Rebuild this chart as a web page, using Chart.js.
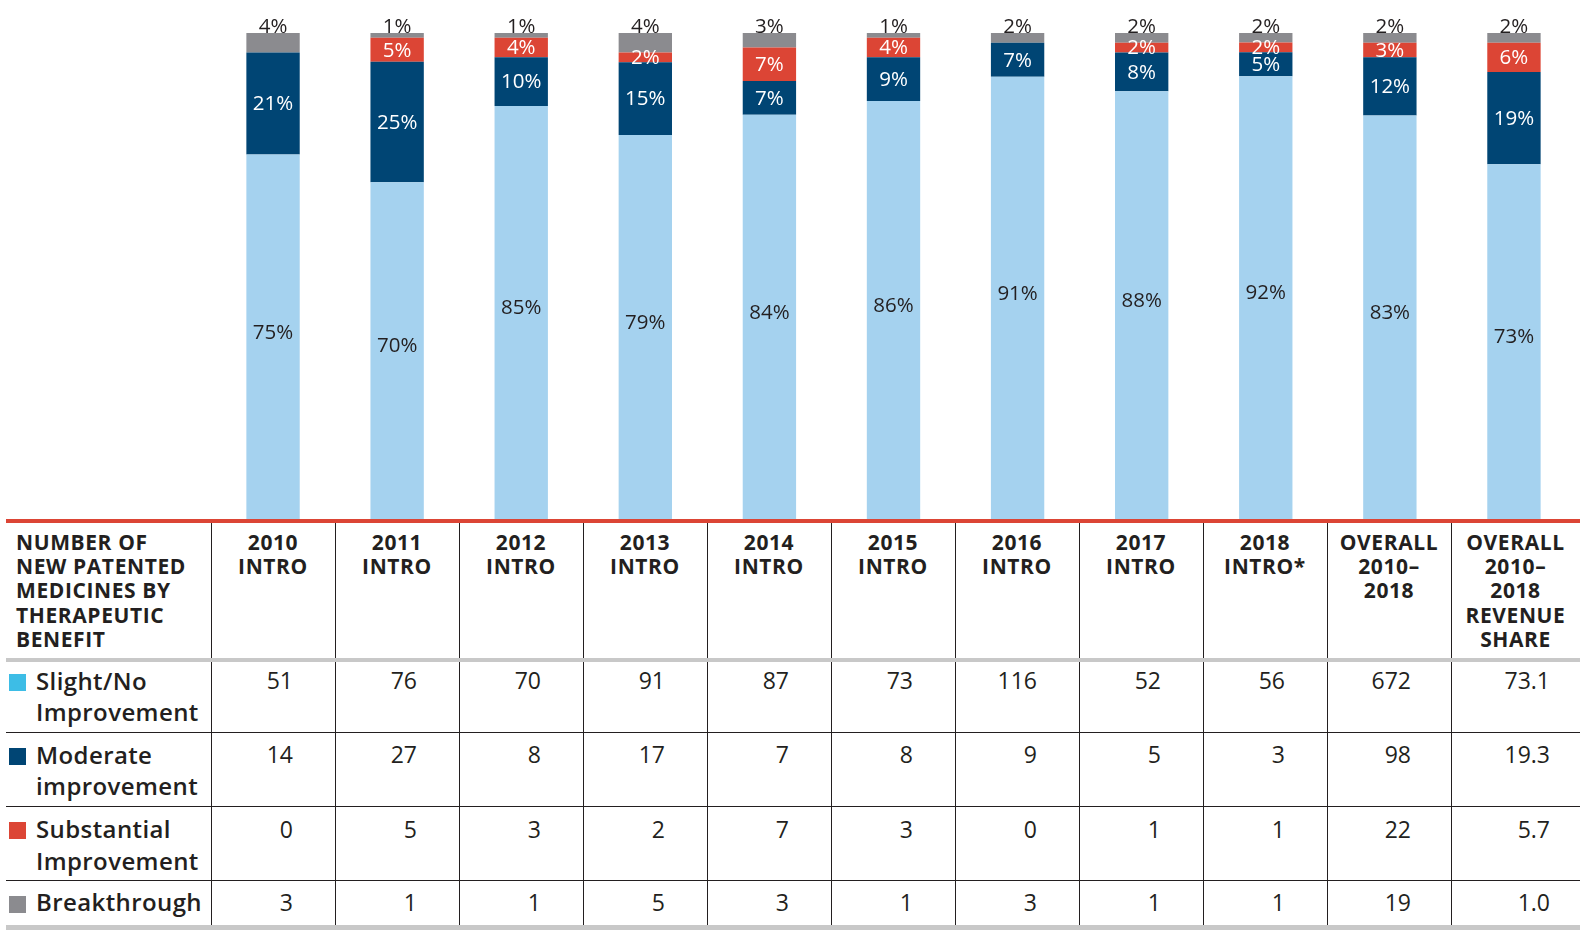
<!DOCTYPE html>
<html>
<head>
<meta charset="utf-8">
<script src="https://cdn.jsdelivr.net/npm/chart.js@4"></script>
<style>
  html, body { margin: 0; padding: 0; background: #fff; }
  #wrap { position: relative; width: 1580px; height: 936px; overflow: hidden; font-family: "Open Sans", sans-serif; color: #231f20; }
  #chart { position: absolute; left: 0; top: 0; }
  .hl { position: absolute; left: 6px; right: 0; }
  .vl { position: absolute; width: 1px; background: #231f20; top: 523px; height: 402px; }
  .hdr { position: absolute; font-weight: 700; font-size: 21px; line-height: 24.2px; letter-spacing: 0.6px; white-space: nowrap; }
  .lab { position: absolute; font-weight: 600; font-size: 24px; line-height: 31.7px; letter-spacing: 0.4px; white-space: nowrap; left: 36px; }
  .val { position: absolute; font-weight: 400; font-size: 23px; line-height: 31.7px; white-space: nowrap; text-align: right; }
  .sq { position: absolute; left: 9px; width: 17px; height: 17px; }
</style>
</head>
<body>
<div id="wrap">
  <canvas id="chart" width="1580" height="519"></canvas>
</div>
<script>
// ---------- DATA ----------
const categories = ["2010 INTRO","2011 INTRO","2012 INTRO","2013 INTRO","2014 INTRO","2015 INTRO","2016 INTRO","2017 INTRO","2018 INTRO*","OVERALL 2010–2018","OVERALL 2010–2018 REVENUE SHARE"];
const headerLines = [["2010","INTRO"],["2011","INTRO"],["2012","INTRO"],["2013","INTRO"],["2014","INTRO"],["2015","INTRO"],["2016","INTRO"],["2017","INTRO"],["2018","INTRO*"],["OVERALL","2010–","2018"],["OVERALL","2010–","2018","REVENUE","SHARE"]];
const cornerLines = ["NUMBER OF","NEW PATENTED","MEDICINES BY","THERAPEUTIC","BENEFIT"];

const seriesNames = [["Slight/No","Improvement"],["Moderate","improvement"],["Substantial","Improvement"],["Breakthrough"]];

const slightPct       = [75,70,85,79,84,86,91,88,92,83,73];
const moderatePct     = [21,25,10,15, 7, 9, 7, 8, 5,12,19];
const substantialPct  = [ 0, 5, 4, 2, 7, 4, 0, 2, 2, 3, 6];
const breakthroughPct = [ 4, 1, 1, 4, 3, 1, 2, 2, 2, 2, 2];

const slightCount       = ["51","76","70","91","87","73","116","52","56","672","73.1"];
const moderateCount     = ["14","27","8","17","7","8","9","5","3","98","19.3"];
const substantialCount  = ["0","5","3","2","7","3","0","1","1","22","5.7"];
const breakthroughCount = ["3","1","1","5","3","1","3","1","1","19","1.0"];

// ---------- STYLE ----------
const barColors = ["#a5d2ef","#004574","#dc4535","#8b8b8f"];
const legendColors = ["#3dbde6","#004574","#dc4535","#8b8b8f"];
const pctSeries = [slightPct, moderatePct, substantialPct, breakthroughPct];
const countSeries = [slightCount, moderateCount, substantialCount, breakthroughCount];

// column totals of the printed shares (some round to 101)
const totals = categories.map((_, i) => pctSeries.reduce((s, a) => s + a[i], 0));

const labelPlugin = {
  id: 'segLabels',
  afterDatasetsDraw(chart) {
    const ctx = chart.ctx;
    ctx.save();
    ctx.font = '400 20.5px "Open Sans"';
    ctx.textAlign = 'center';
    chart.data.datasets.forEach((ds, di) => {
      const meta = chart.getDatasetMeta(di);
      meta.data.forEach((el, i) => {
        const v = pctSeries[di][i];
        if (!v) return;
        const p = el.getProps(['x','y','base'], true);
        const txt = v + '%';
        if (di === 3) {
          ctx.fillStyle = '#231f20';
          ctx.textBaseline = 'alphabetic';
          ctx.fillText(txt, p.x, p.y - 0.5);
        } else if (di === 0) {
          ctx.fillStyle = '#231f20';
          ctx.textBaseline = 'middle';
          ctx.fillText(txt, p.x, (p.y + p.base) / 2 - 4);
        } else {
          ctx.fillStyle = '#ffffff';
          ctx.textBaseline = 'middle';
          ctx.fillText(txt, p.x, (p.y + p.base) / 2 + 1);
        }
      });
    });
    ctx.restore();
  }
};

new Chart(document.getElementById('chart'), {
  type: 'bar',
  data: {
    labels: categories,
    datasets: pctSeries.map((arr, di) => ({
      label: seriesNames[di].join(' '),
      data: arr.map((v, i) => v / totals[i] * 100),
      backgroundColor: barColors[di],
      borderWidth: 0,
      categoryPercentage: 1,
      barPercentage: 0.43
    }))
  },
  options: {
    responsive: false,
    animation: false,
    devicePixelRatio: 1,
    layout: { padding: { left: 211, right: 4, top: 33, bottom: 0 } },
    plugins: { legend: { display: false }, tooltip: { enabled: false } },
    scales: {
      x: { stacked: true, display: false },
      y: { stacked: true, display: false, min: 0, max: 100 }
    }
  },
  plugins: [labelPlugin]
});

// ---------- TABLE ----------
const wrap = document.getElementById('wrap');
function add(cls, style, html) {
  const d = document.createElement('div');
  d.className = cls;
  Object.assign(d.style, style);
  if (html !== undefined) d.innerHTML = html;
  wrap.appendChild(d);
  return d;
}
const colLeft = i => 211 + 124 * i;
const colRight = i => i === 10 ? 1580 : 211 + 124 * (i + 1);
const rightPad = i => i === 10 ? 30 : (i === 9 ? 40 : 42);

// vertical lines
for (let i = 0; i <= 10; i++) add('vl', { left: (colLeft(i)) + 'px' });
// horizontal lines
add('hl', { top: '519px', height: '4px', background: '#dc4535' });
add('hl', { top: '658px', height: '4px', background: '#c8c8c8' });
add('hl', { top: '732px', height: '1px', background: '#231f20' });
add('hl', { top: '806px', height: '1px', background: '#231f20' });
add('hl', { top: '880px', height: '1px', background: '#231f20' });
add('hl', { top: '925px', height: '5px', background: '#c8c8c8' });

// header
add('hdr', { left: '16px', top: '530px' }, cornerLines.join('<br>'));
headerLines.forEach((lines, i) => {
  add('hdr', { left: colLeft(i) + 'px', width: (colRight(i) - colLeft(i)) + 'px', top: '530px', textAlign: 'center' }, lines.join('<br>'));
});

// body rows
const baselines = [690, 764, 838.3, 911.7];
seriesNames.forEach((name, r) => {
  const top = baselines[r] - 24.8;
  add('sq', { top: (baselines[r] - 16) + 'px', background: legendColors[r] });
  add('lab', { top: (top - 0.6) + 'px' }, name.join('<br>'));
  countSeries[r].forEach((v, i) => {
    add('val', { top: top + 'px', left: colLeft(i) + 'px', width: (colRight(i) - colLeft(i) - rightPad(i)) + 'px' }, v);
  });
});
</script>
</body>
</html>
